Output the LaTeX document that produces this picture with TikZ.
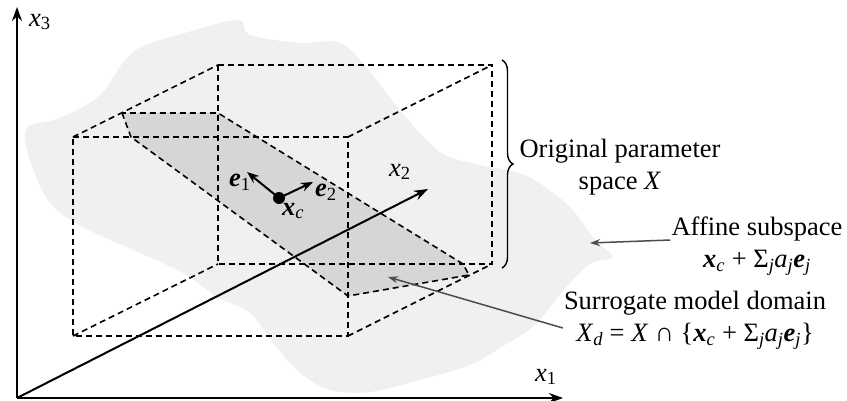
\documentclass[tikz,border=0pt]{standalone}
\usepackage{fontspec}
\setmainfont{Liberation Serif}
\usepackage{tikz}
\usetikzlibrary{positioning,arrows.meta,decorations.pathreplacing}

\newcommand{\bvec}[1]{\textbf{\textit{#1}}}
\newcommand{\sbs}[1]{\textsubscript{#1}}

\begin{document}
\begin{tikzpicture}[x=1pt,y=-1pt,
    lbl/.style={font=\fontsize{26.5}{32}\selectfont, inner sep=1pt},
    box/.style={line width=1.6pt, dash pattern=on 6pt off 4pt},
    axis/.style={line width=2pt, -{Stealth[length=14pt,width=10pt]}},
    pointer/.style={line width=1.5pt, draw=black!70, -{Stealth[length=10pt,width=7pt]}}]
        \useasboundingbox (0,0) rectangle (847,401);
        % Spazio affine (sfondo)
        \fill[black!6] plot[smooth cycle, tension=0.55] coordinates {
            (27,128) (60,118) (100,95) (133,52) (185,33) (238,20) (250,35)
            (300,43) (338,42) (362,62) (400,110) (440,152) (480,165) (525,175)
            (568,205) (595,240) (613,257) (590,264) (562,292) (535,325)
            (505,345) (470,365) (420,380) (370,392) (330,390) (300,373)
            (273,343) (250,313) (217,297) (183,273) (133,250) (83,227)
            (50,203) (30,160)};
        % Dominio del modello
        \coordinate (A) at (122,113);
        \coordinate (B) at (131,137);
        \coordinate (D) at (348,296);
        \coordinate (E) at (469,275);
        \coordinate (F) at (463,264);
        \coordinate (C) at (218,113);
        \fill[black!16] (A) -- (B) -- (D) -- (E) -- (F) -- (C) -- cycle;
        % Scatola
        \coordinate (f1) at (73,137);
        \coordinate (f2) at (348,137);
        \coordinate (f3) at (348,336);
        \coordinate (f4) at (73,336);
        \coordinate (b1) at (218,65);
        \coordinate (b2) at (492,65);
        \coordinate (b3) at (492,264);
        \coordinate (b4) at (218,264);
        \draw[box] (f1) -- (f2) -- (f3) -- (f4) -- cycle;
        \draw[box] (b1) -- (b2) -- (b3) -- (b4) -- cycle;
        \foreach \i in {1,...,4}
            \draw[box] (f\i) -- (b\i);
        \draw[box] (A) -- (B) -- (D) -- (E) -- (F) -- (C) -- cycle;
        % Assi
        \coordinate (O) at (17,398);
        \coordinate (x1end) at (563,398);
        \coordinate (x2end) at (428,189);
        \coordinate (x3end) at (17,7);
        \draw[axis] (O) -- (x1end);
        \draw[axis] (O) -- (x2end);
        \draw[axis] (O) -- (x3end);
        \node[lbl] (x1lab) at (546,377) {\textit{x}\sbs{1}};
        \node[lbl] (x2lab) at (400,172) {\textit{x}\sbs{2}};
        \node[lbl] (x3lab) at (40,22) {\textit{x}\sbs{3}};
        % Centro e direzioni
        \node[circle, fill=black, inner sep=0pt, minimum size=12pt] (xc) at (279,198) {};
        \coordinate (e1end) at (247,172);
        \coordinate (e2end) at (313,182);
        \draw[line width=2pt, -{Stealth[length=12pt,width=9pt]}] (xc.center) -- (e1end);
        \draw[line width=2pt, -{Stealth[length=12pt,width=9pt]}] (xc.center) -- (e2end);
        \node[lbl] (e1lab) at (240,182) {\bvec{e}\sbs{1}};
        \node[lbl] (e2lab) at (326,192) {\bvec{e}\sbs{2}};
        \node[lbl] (xclab) at (293,211) {\bvec{x}\sbs{\textit{c}}};
        % Parentesi graffa
        \coordinate (brtop) at (502,60);
        \coordinate (brbot) at (502,268);
        \draw[decorate, decoration={brace, amplitude=11pt}, line width=1.4pt] (brtop) -- (brbot);
        % Etichette
        \node[lbl, align=center] (orig) at (620,167) {Original parameter\\space \textit{X}};
        \node[lbl, align=center] (affine) at (757,246)
            {Affine subspace\\\bvec{x}\sbs{\textit{c}} + Σ\sbs{\textit{j}}\textit{a}\sbs{\textit{j}}\bvec{e}\sbs{\textit{j}}};
        \node[lbl, align=center] (surr) at (695,320)
            {Surrogate model domain\\\textit{X}\sbs{\textit{d}} = \textit{X} ∩ \{\bvec{x}\sbs{\textit{c}} + Σ\sbs{\textit{j}}\textit{a}\sbs{\textit{j}}\bvec{e}\sbs{\textit{j}}\}};
        \coordinate (affpt) at (590,243);
        \coordinate (surrpt) at (388,277);
        \draw[pointer] (affine.west) ++(0,-6) -- (affpt);
        \draw[pointer] (surr.west) ++(0,8) -- (surrpt);
\end{tikzpicture}
\end{document}
